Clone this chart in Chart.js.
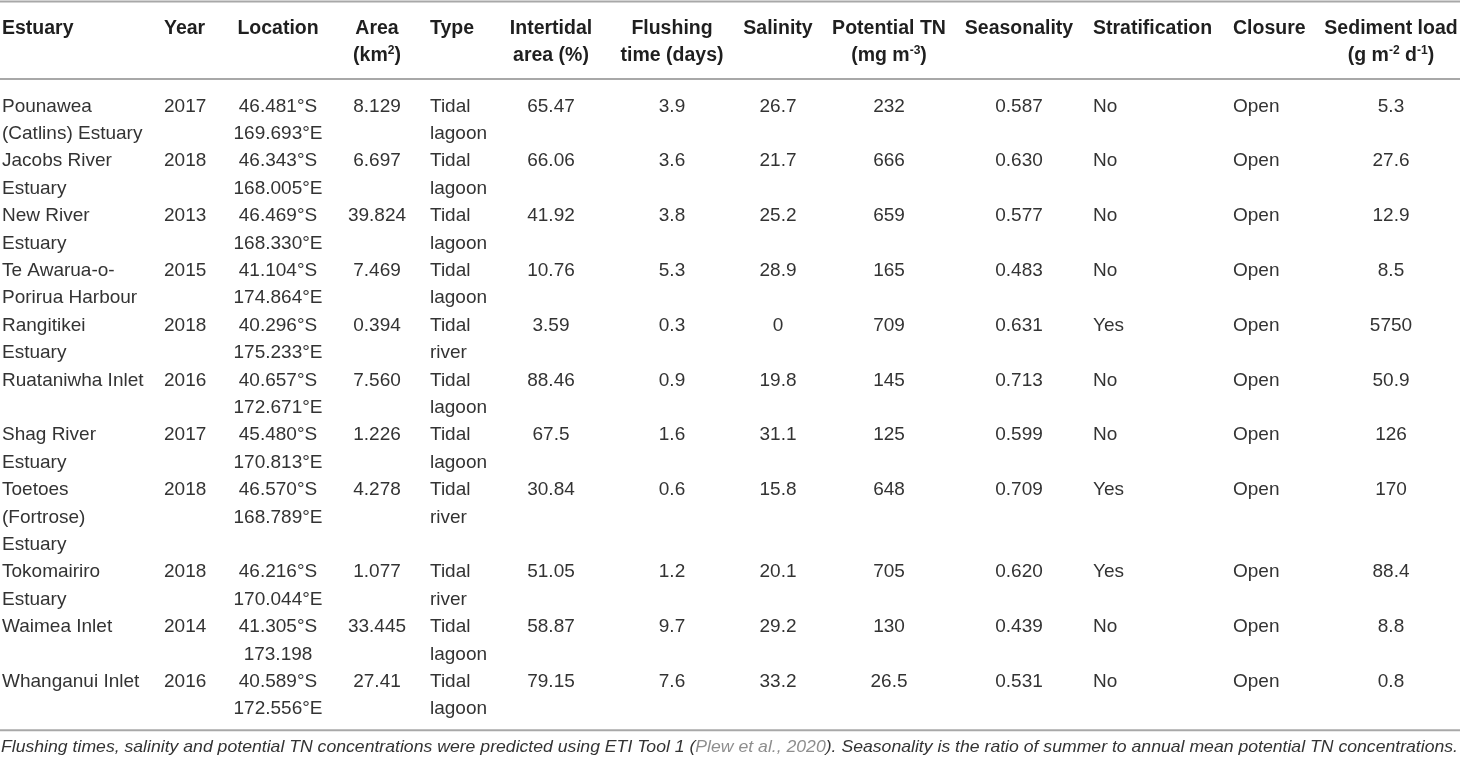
<!DOCTYPE html>
<html>
<head>
<meta charset="utf-8">
<title>Estuary characteristics</title>
<script src="https://cdn.jsdelivr.net/npm/chart.js@4.4.1/dist/chart.umd.min.js"></script>
<style>
  html, body { margin: 0; padding: 0; background: #fff; }
  canvas { display: block; }
</style>
</head>
<body>
<canvas id="table" width="1460" height="762"></canvas>
<script>
// ---- table data ----
const estuaries = ['Pounawea (Catlins) Estuary', 'Jacobs River Estuary', 'New River Estuary', 'Te Awarua-o-Porirua Harbour',
  'Rangitikei Estuary', 'Ruataniwha Inlet', 'Shag River Estuary', 'Toetoes (Fortrose) Estuary', 'Tokomairiro Estuary',
  'Waimea Inlet', 'Whanganui Inlet'];
const years = ['2017', '2018', '2013', '2015', '2018', '2016', '2017', '2018', '2018', '2014', '2016'];
const latitudes = ['46.481°S', '46.343°S', '46.469°S', '41.104°S', '40.296°S', '40.657°S', '45.480°S', '46.570°S', '46.216°S', '41.305°S', '40.589°S'];
const longitudes = ['169.693°E', '168.005°E', '168.330°E', '174.864°E', '175.233°E', '172.671°E', '170.813°E', '168.789°E', '170.044°E', '173.198', '172.556°E'];
const areas = ['8.129', '6.697', '39.824', '7.469', '0.394', '7.560', '1.226', '4.278', '1.077', '33.445', '27.41'];
const types = ['Tidal lagoon', 'Tidal lagoon', 'Tidal lagoon', 'Tidal lagoon', 'Tidal river', 'Tidal lagoon', 'Tidal lagoon',
  'Tidal river', 'Tidal river', 'Tidal lagoon', 'Tidal lagoon'];
const intertidal = ['65.47', '66.06', '41.92', '10.76', '3.59', '88.46', '67.5', '30.84', '51.05', '58.87', '79.15'];
const flushing = ['3.9', '3.6', '3.8', '5.3', '0.3', '0.9', '1.6', '0.6', '1.2', '9.7', '7.6'];
const salinity = ['26.7', '21.7', '25.2', '28.9', '0', '19.8', '31.1', '15.8', '20.1', '29.2', '33.2'];
const potentialTN = ['232', '666', '659', '165', '709', '145', '125', '648', '705', '130', '26.5'];
const seasonality = ['0.587', '0.630', '0.577', '0.483', '0.631', '0.713', '0.599', '0.709', '0.620', '0.439', '0.531'];
const stratification = ['No', 'No', 'No', 'No', 'Yes', 'No', 'No', 'Yes', 'Yes', 'No', 'No'];
const closure = ['Open', 'Open', 'Open', 'Open', 'Open', 'Open', 'Open', 'Open', 'Open', 'Open', 'Open'];
const sedimentLoad = ['5.3', '27.6', '12.9', '8.5', '5750', '50.9', '126', '170', '88.4', '8.8', '0.8'];

// header lines, ^{..} = superscript
const headers = [['Estuary'], ['Year'], ['Location'], ['Area', '(km^{2})'], ['Type'], ['Intertidal', 'area (%)'],
  ['Flushing', 'time (days)'], ['Salinity'], ['Potential TN', '(mg m^{-3})'], ['Seasonality'], ['Stratification'],
  ['Closure'], ['Sediment load', '(g m^{-2} d^{-1})']];

const footnoteParts = ['Flushing times, salinity and potential TN concentrations were predicted using ETI Tool 1 (',
  'Plew et al., 2020', '). Seasonality is the ratio of summer to annual mean potential TN concentrations.'];

// ---- layout ----
const FONT = '"Liberation Sans", Arial, Helvetica, sans-serif';
const BODY_SIZE = 19;
const HEAD_SIZE = 19.5;
const LINE = 27.4;           // one text line, in px
const FIRST_LINE_PX = 27;    // centre of header's first line

const columns = [
  { x: 2, align: 'left', wrap: 148 },
  { x: 164, align: 'left' },
  { x: 278, align: 'center' },
  { x: 377, align: 'center' },
  { x: 430, align: 'left', wrap: 70 },
  { x: 551, align: 'center' },
  { x: 672, align: 'center' },
  { x: 778, align: 'center' },
  { x: 889, align: 'center' },
  { x: 1019, align: 'center' },
  { x: 1093, align: 'left' },
  { x: 1233, align: 'left' },
  { x: 1391, align: 'center' }
];

const RULE_TOP = -0.93;
const RULE_HEAD = 1.9;
const DATA_START = 2.84;

const canvas = document.getElementById('table');
const ctx = canvas.getContext('2d');

function wrapText(text, maxWidth) {
  if (!maxWidth) return text.split('\n');
  ctx.font = `${BODY_SIZE}px ${FONT}`;
  const tokens = text.split(/(?<=[ -])/);
  const lines = [];
  let cur = '';
  tokens.forEach(tok => {
    const test = cur + tok;
    if (cur && ctx.measureText(test.trimEnd()).width > maxWidth) {
      lines.push(cur.trimEnd());
      cur = tok;
    } else {
      cur = test;
    }
  });
  if (cur) lines.push(cur.trimEnd());
  return lines;
}

// build the cells as points on the (line-unit) scales
const headCells = [];
headers.forEach((lines, c) => {
  lines.forEach((t, k) => headCells.push({ x: columns[c].x, y: k, text: t, align: columns[c].align }));
});

const bodyCells = [];
let line = DATA_START;
estuaries.forEach((name, r) => {
  const row = [
    wrapText(name, columns[0].wrap), [years[r]], [latitudes[r], longitudes[r]], [areas[r]],
    wrapText(types[r], columns[4].wrap), [intertidal[r]], [flushing[r]], [salinity[r]], [potentialTN[r]],
    [seasonality[r]], [stratification[r]], [closure[r]], [sedimentLoad[r]]
  ];
  row.forEach((lines, c) => {
    lines.forEach((t, k) => bodyCells.push({ x: columns[c].x, y: line + k, text: t, align: columns[c].align }));
  });
  line += Math.max(...row.map(l => l.length));
});
const RULE_BOTTOM = line - 1 + 0.83;
const FOOT_BASE = RULE_BOTTOM + 0.8;

function drawRich(text, x, y, align, size, weight, color) {
  const parts = text.split(/(\^\{[^}]*\})/).filter(p => p.length);
  const segs = parts.map(p => {
    const sup = p.startsWith('^{');
    return { t: sup ? p.slice(2, -1) : p, sup, font: `${weight} ${sup ? size * 0.62 : size}px ${FONT}` };
  });
  let total = 0;
  segs.forEach(s => { ctx.font = s.font; s.w = ctx.measureText(s.t).width; total += s.w; });
  let sx = align === 'left' ? x : align === 'center' ? x - total / 2 : x - total;
  ctx.fillStyle = color;
  ctx.textAlign = 'left';
  ctx.textBaseline = 'alphabetic';
  segs.forEach(s => {
    ctx.font = s.font;
    ctx.fillText(s.t, sx, y + size * 0.36 - (s.sup ? size * 0.4 : 0));
    sx += s.w;
  });
}

const tablePainter = {
  id: 'tablePainter',
  afterDatasetsDraw(chart) {
    const { ctx, scales: { x, y } } = chart;
    ctx.save();

    // horizontal rules
    ctx.strokeStyle = '#a8a8a8';
    ctx.lineWidth = 2;
    [RULE_TOP, RULE_HEAD, RULE_BOTTOM].forEach(v => {
      const py = y.getPixelForValue(v);
      ctx.beginPath();
      ctx.moveTo(x.left, py);
      ctx.lineTo(x.right, py);
      ctx.stroke();
    });

    // cells
    chart.data.datasets.forEach((ds, di) => {
      const meta = chart.getDatasetMeta(di);
      meta.data.forEach((pt, i) => {
        const cell = ds.data[i];
        drawRich(cell.text, pt.x, pt.y, cell.align, ds.textSize, ds.textWeight, ds.textColor);
      });
    });

    // footnote, fitted to the table width
    const fy = y.getPixelForValue(FOOT_BASE);
    ctx.font = `italic 17px "Liberation Sans Narrow", "Liberation Sans", Arial, sans-serif`;
    ctx.textBaseline = 'alphabetic';
    ctx.textAlign = 'left';
    const widths = footnoteParts.map(p => ctx.measureText(p).width);
    const total = widths.reduce((a, b) => a + b, 0);
    const sx = (x.right - x.left - 3) / total;
    ctx.translate(x.left + 1, fy);
    ctx.scale(sx, 1);
    let fx = 0;
    footnoteParts.forEach((p, i) => {
      ctx.fillStyle = i === 1 ? '#8e8e8e' : '#333';
      ctx.fillText(p, fx, 0);
      fx += widths[i];
    });
    ctx.restore();
  }
};

const yMin = -FIRST_LINE_PX / LINE;
const yMax = yMin + canvas.height / LINE;

new Chart(ctx, {
  type: 'scatter',
  data: {
    datasets: [
      { data: headCells, pointRadius: 0, pointHoverRadius: 0, textSize: HEAD_SIZE, textWeight: 'bold', textColor: '#1f1f1f' },
      { data: bodyCells, pointRadius: 0, pointHoverRadius: 0, textSize: BODY_SIZE, textWeight: 'normal', textColor: '#333' }
    ]
  },
  options: {
    responsive: false,
    animation: false,
    events: [],
    layout: { padding: 0, autoPadding: false },
    plugins: { legend: { display: false }, tooltip: { enabled: false } },
    scales: {
      x: { type: 'linear', display: false, min: 0, max: canvas.width },
      y: { type: 'linear', display: false, reverse: true, min: yMin, max: yMax }
    }
  },
  plugins: [tablePainter]
});
</script>
</body>
</html>
